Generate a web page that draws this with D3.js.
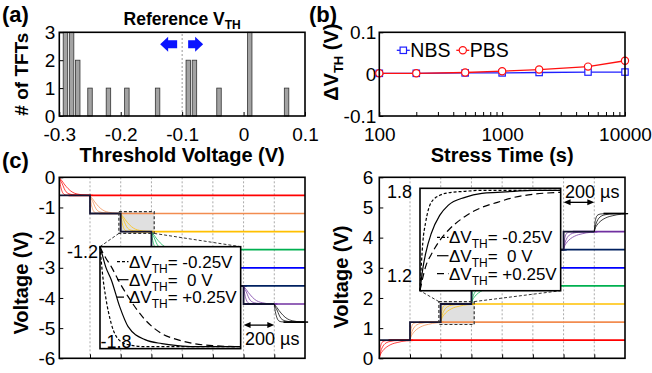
<!DOCTYPE html>
<html>
<head>
<meta charset="utf-8">
<script src="https://d3js.org/d3.v7.min.js"></script>
<style>
body { margin: 0; background: #fff; }
</style>
</head>
<body>
<div id="chart"></div>
<script>
// ---- data ----
// (a) histogram of threshold voltages
var histVth   = [-0.29, -0.28, -0.27, -0.25, -0.22, -0.19, -0.14, -0.09, -0.08, -0.04, 0.01, 0.07];
var histCount = [3, 3, 2, 1, 1, 1, 1, 2, 2, 1, 3, 1];
var refVth = -0.1;
var histXTicks = [-0.3, -0.2, -0.1, 0, 0.1];
var histYTicks = [0, 1, 2, 3];

// (b) threshold shift vs stress time
var stressTime = [100, 200, 500, 1000, 2000, 5000, 10000];
var nbsShift   = [0.002, 0.002, 0.003, 0.003, 0.004, 0.005, 0.005];
var pbsShift   = [0.002, 0.002, 0.004, 0.007, 0.011, 0.018, 0.032];
var stressTicks = [100, 1000, 10000];
var shiftTicks  = [-0.1, 0, 0.1];

// (c) staircase outputs
var stepTimes  = [0, 200, 400, 600, 800, 1000, 1200, 1400];   // us
var stepLevels = [0.6, 1.2, 1.8, 2.4, 3.0, 3.6, 4.2, 4.8];      // |V|
var stepColors = ["#ff0000", "#f28c50", "#ffc000", "#00b050", "#0000ff", "#002060", "#7030a0", "#000000"];
var gridTimes  = [200, 400, 600, 800, 1000, 1200, 1400];

// inset transients: fraction of the step reached vs fraction of the inset width
var insetU     = [0, 0.02, 0.04, 0.08, 0.14, 0.2, 0.32, 0.44, 0.55, 0.67, 0.8, 1];
var fallShort  = [0, 0.3, 0.5, 0.77, 0.94, 0.98, 1, 1, 1, 1, 1, 1];
var fallSolid  = [0, 0.1, 0.2, 0.33, 0.6, 0.8, 0.93, 0.97, 0.99, 1, 1, 1];
var fallLong   = [0, 0.06, 0.11, 0.2, 0.36, 0.5, 0.73, 0.87, 0.93, 0.97, 0.99, 1];
var riseShort  = [0, 0.48, 0.68, 0.88, 0.95, 0.975, 0.99, 1, 1, 1, 1, 1];
var riseSolid  = [0, 0.22, 0.37, 0.57, 0.75, 0.85, 0.93, 0.97, 0.98, 0.99, 1, 1];
var riseLong   = [0, 0.13, 0.24, 0.36, 0.5, 0.6, 0.74, 0.83, 0.88, 0.93, 0.96, 0.98];
var legendText = ["= -0.25V", "=  0 V", "= +0.25V"];

var FONT = '"Liberation Sans", Arial, Helvetica, sans-serif';

var svg = d3.select("#chart").append("svg")
  .attr("width", 652)
  .attr("height", 373)
  .attr("font-family", FONT);

function fmt(d) { return String(d); }

function frame(g, x0, x1, y0, y1) {
  g.append("rect")
    .attr("x", x0).attr("y", y0)
    .attr("width", x1 - x0).attr("height", y1 - y0)
    .attr("fill", "none")
    .attr("stroke", "#000")
    .attr("stroke-width", 1.6);
}

function styleAxis(g, size) {
  g.select(".domain").remove();
  g.attr("font-family", FONT).attr("font-size", size);
  g.selectAll(".tick line").attr("stroke", "#000").attr("stroke-width", 1);
}

function panelLabel(txt, x, y) {
  svg.append("text").attr("x", x).attr("y", y)
    .attr("font-size", 22).attr("font-weight", "bold").text(txt);
}

// ================= (a) =================
(function panelA() {
  var x0 = 59.3, x1 = 305, y0 = 32.3, y1 = 116;
  var x = d3.scaleLinear().domain([-0.3, 0.1]).range([x0, x1]);
  var y = d3.scaleLinear().domain([0, 3]).range([y1, y0]);
  var g = svg.append("g");
  var binW = 0.0073;

  g.append("line")
    .attr("x1", x(refVth)).attr("x2", x(refVth))
    .attr("y1", y(0)).attr("y2", y(3))
    .attr("stroke", "#999").attr("stroke-dasharray", "2,2");

  g.selectAll(".bar")
    .data(histVth)
    .enter().append("rect")
    .attr("class", "bar")
    .attr("x", function(d) { return x(d - binW / 2); })
    .attr("width", function(d) { return x(d + binW / 2) - x(d - binW / 2); })
    .attr("y", function(d, i) { return y(histCount[i]); })
    .attr("height", function(d, i) { return y(0) - y(histCount[i]); })
    .attr("fill", "#a3a3a3")
    .attr("stroke", "#333")
    .attr("stroke-width", 0.8);

  g.append("g")
    .attr("transform", "translate(0," + y1 + ")")
    .call(d3.axisBottom(x).tickValues(histXTicks).tickSize(-4).tickSizeOuter(0).tickPadding(12).tickFormat(fmt))
    .call(function(a) { styleAxis(a, 19); });

  g.append("g")
    .attr("transform", "translate(" + x0 + ",0)")
    .call(d3.axisLeft(y).tickValues(histYTicks).tickSize(-4).tickSizeOuter(0).tickPadding(4).tickFormat(fmt))
    .call(function(a) { styleAxis(a, 19); });

  frame(g, x0, x1, y0, y1);

  // blue arrows either side of the reference line
  var cx = x(refVth), cy = y0 + 12;
  var arrows = [
    [[cx - 22, cy], [cx - 14, cy - 7.5], [cx - 14, cy - 4], [cx - 5, cy - 4], [cx - 5, cy + 4], [cx - 14, cy + 4], [cx - 14, cy + 7.5]],
    [[cx + 21, cy], [cx + 13, cy - 7.5], [cx + 13, cy - 4], [cx + 6, cy - 4], [cx + 6, cy + 4], [cx + 13, cy + 4], [cx + 13, cy + 7.5]]
  ];
  g.selectAll(".arrow").data(arrows).enter().append("polygon")
    .attr("points", function(d) { return d.join(" "); })
    .attr("fill", "#0a14ff");

  var t = g.append("text")
    .attr("x", cx).attr("y", 25)
    .attr("text-anchor", "middle")
    .attr("font-size", 17.5).attr("font-weight", "bold");
  t.append("tspan").text("Reference V");
  t.append("tspan").attr("font-size", 12).attr("dy", 4).text("TH");

  g.append("text")
    .attr("transform", "translate(28," + ((y0 + y1) / 2) + ") rotate(-90)")
    .attr("text-anchor", "middle")
    .attr("font-size", 19).attr("font-weight", "bold")
    .text("# of TFTs");

  g.append("text")
    .attr("x", (x0 + x1) / 2).attr("y", 162)
    .attr("text-anchor", "middle")
    .attr("font-size", 20).attr("font-weight", "bold")
    .text("Threshold Voltage (V)");
})();

// ================= (b) =================
(function panelB() {
  var x0 = 379.3, x1 = 625, y0 = 32.3, y1 = 116;
  var x = d3.scaleLog().domain([100, 10000]).range([x0, x1]);
  var y = d3.scaleLinear().domain([-0.1, 0.1]).range([y1, y0]);
  var g = svg.append("g");

  g.append("g")
    .attr("transform", "translate(0," + y1 + ")")
    .call(d3.axisBottom(x).tickValues(x.ticks()).tickSize(-4).tickSizeOuter(0).tickPadding(12)
      .tickFormat(function(d) { return stressTicks.indexOf(d) >= 0 ? String(d) : ""; }))
    .call(function(a) { styleAxis(a, 19); });

  g.append("g")
    .attr("transform", "translate(" + x0 + ",0)")
    .call(d3.axisLeft(y).tickValues(shiftTicks).tickSize(-4).tickSizeOuter(0).tickPadding(3).tickFormat(fmt))
    .call(function(a) { styleAxis(a, 19); });

  var series = [
    { vals: nbsShift, color: "#1f1fff", shape: "square" },
    { vals: pbsShift, color: "#ff1010", shape: "circle" }
  ];
  var line = d3.line()
    .x(function(d, i) { return x(stressTime[i]); })
    .y(function(d) { return y(d); });

  series.forEach(function(s) {
    g.append("path")
      .attr("d", line(s.vals))
      .attr("fill", "none")
      .attr("stroke", s.color)
      .attr("stroke-width", 1.3);
    if (s.shape == "square") {
      g.selectAll(".sq").data(s.vals).enter().append("rect")
        .attr("class", "sq")
        .attr("x", function(d, i) { return x(stressTime[i]) - 3.2; })
        .attr("y", function(d) { return y(d) - 3.2; })
        .attr("width", 6.4).attr("height", 6.4)
        .attr("fill", "#fff").attr("stroke", s.color).attr("stroke-width", 1.2);
    } else {
      g.selectAll(".ci").data(s.vals).enter().append("circle")
        .attr("class", "ci")
        .attr("cx", function(d, i) { return x(stressTime[i]); })
        .attr("cy", function(d) { return y(d); })
        .attr("r", 3.6)
        .attr("fill", "#fff").attr("stroke", s.color).attr("stroke-width", 1.2);
    }
  });

  frame(g, x0, x1, y0, y1);

  // legend
  var ly = y0 + 18;
  var leg = [
    { lx: x0 + 17.5, label: "NBS", color: "#1f1fff", shape: "square" },
    { lx: x0 + 77, label: "PBS", color: "#ff1010", shape: "circle" }
  ];
  leg.forEach(function(l) {
    g.append("line").attr("x1", l.lx).attr("x2", l.lx + 13).attr("y1", ly).attr("y2", ly)
      .attr("stroke", l.color).attr("stroke-width", 1.3);
    if (l.shape == "square") {
      g.append("rect").attr("x", l.lx + 3.3).attr("y", ly - 3.2).attr("width", 6.4).attr("height", 6.4)
        .attr("fill", "#fff").attr("stroke", l.color).attr("stroke-width", 1.2);
    } else {
      g.append("circle").attr("cx", l.lx + 6.5).attr("cy", ly).attr("r", 3.6)
        .attr("fill", "#fff").attr("stroke", l.color).attr("stroke-width", 1.2);
    }
    g.append("text").attr("x", l.lx + 13.5).attr("y", ly + 7)
      .attr("font-size", 19.5).text(l.label);
  });

  var t = g.append("text")
    .attr("transform", "translate(338," + ((y0 + y1) / 2 - 12) + ") rotate(-90)")
    .attr("text-anchor", "middle")
    .attr("font-size", 20).attr("font-weight", "bold");
  t.append("tspan").text("\u0394V");
  t.append("tspan").attr("font-size", 13).attr("dy", 5).text("TH");
  t.append("tspan").attr("dy", -5).text(" (V)");

  g.append("text")
    .attr("x", (x0 + x1) / 2).attr("y", 162)
    .attr("text-anchor", "middle")
    .attr("font-size", 20).attr("font-weight", "bold")
    .text("Stress Time (s)");
})();

// ================= (c) =================
function panelC(cfg) {
  var x0 = cfg.x0, x1 = cfg.x0 + 245.7, y0 = 177.3, y1 = 358.3;
  var s = cfg.sign;
  var x = d3.scaleLinear().domain([0, 1600]).range([x0, x1]);
  var y = d3.scaleLinear().domain(cfg.yDomain).range([y1, y0]);
  var g = svg.append("g");
  var curves = cfg.curves;
  var dashes = ["3,2", null, "7,4"];

  // dotted grid
  g.selectAll(".grid").data(gridTimes).enter().append("line")
    .attr("x1", function(d) { return x(d); }).attr("x2", function(d) { return x(d); })
    .attr("y1", y0).attr("y2", y1)
    .attr("stroke", "#aaa").attr("stroke-width", 1).attr("stroke-dasharray", "2,2");

  // zoomed region
  var hb = cfg.hiBox;
  g.append("rect")
    .attr("x", x(hb.t[0])).attr("width", x(hb.t[1]) - x(hb.t[0]))
    .attr("y", Math.min(y(hb.v[0]), y(hb.v[1])))
    .attr("height", Math.abs(y(hb.v[0]) - y(hb.v[1])))
    .attr("fill", "#e0e0e0");

  var tline = d3.line().curve(d3.curveMonotoneX)
    .x(function(d) { return x(d[0]); })
    .y(function(d) { return y(d[1]); });

  // coloured outputs with their transients
  stepLevels.forEach(function(lv, k) {
    var v1 = s * lv;
    var v0 = k == 0 ? 0 : s * stepLevels[k - 1];
    var t0 = stepTimes[k];
    curves.forEach(function(c) {
      var pts = insetU.map(function(u, j) { return [t0 + u * 220, v0 + (v1 - v0) * c[j]]; });
      g.append("path").attr("d", tline(pts))
        .attr("fill", "none").attr("stroke", stepColors[k]).attr("stroke-width", 1)
        .attr("opacity", 0.75);
    });
    g.append("line")
      .attr("x1", x(t0 + 60)).attr("x2", x(1600))
      .attr("y1", y(v1)).attr("y2", y(v1))
      .attr("stroke", stepColors[k]).attr("stroke-width", 1.7);
  });

  // input staircase
  var stair = [];
  stepLevels.forEach(function(lv, k) {
    if (k == stepLevels.length - 1) return;
    stair.push([stepTimes[k], s * lv]);
    stair.push([stepTimes[k + 1], s * lv]);
  });
  g.append("path")
    .attr("d", d3.line().x(function(d) { return x(d[0]); }).y(function(d) { return y(d[1]); })(stair))
    .attr("fill", "none").attr("stroke", "#141433").attr("stroke-width", 1.8);

  g.append("rect")
    .attr("x", x(hb.t[0])).attr("width", x(hb.t[1]) - x(hb.t[0]))
    .attr("y", Math.min(y(hb.v[0]), y(hb.v[1])))
    .attr("height", Math.abs(y(hb.v[0]) - y(hb.v[1])))
    .attr("fill", "none").attr("stroke", "#333").attr("stroke-width", 1.2).attr("stroke-dasharray", "3,2");

  // axes
  g.append("g")
    .attr("transform", "translate(0," + y1 + ")")
    .call(d3.axisBottom(x).tickValues(gridTimes).tickSize(-4).tickSizeOuter(0).tickFormat(""))
    .call(function(a) { styleAxis(a, 19); });
  g.append("g")
    .attr("transform", "translate(" + x0 + ",0)")
    .call(d3.axisLeft(y).tickValues(d3.range(cfg.yDomain[0], cfg.yDomain[1] + 1)).tickSize(-4).tickSizeOuter(0)
      .tickPadding(cfg.pad).tickFormat(fmt))
    .call(function(a) { styleAxis(a, 19); });

  // inset
  var ib = cfg.inset;
  var ix0 = x(ib.t[0]), ix1 = x(ib.t[1]);
  var iyTop = y(ib.v[0]), iyBot = y(ib.v[1]);
  var hy = y(hb.v[1]);
  var iy = s < 0 ? iyTop : iyBot;
  [[x(hb.t[0]), ix0], [x(hb.t[1]), ix1]].forEach(function(p) {
    g.append("line").attr("x1", p[0]).attr("y1", hy).attr("x2", p[1]).attr("y2", iy)
      .attr("stroke", "#333").attr("stroke-width", 1).attr("stroke-dasharray", "3,2");
  });

  g.append("rect")
    .attr("x", ix0).attr("y", iyTop).attr("width", ix1 - ix0).attr("height", iyBot - iyTop)
    .attr("fill", "#fff").attr("stroke", "#000").attr("stroke-width", 1.6);

  var xi = d3.scaleLinear().domain([0, 1]).range([ix0, ix1]);
  var yi = d3.scaleLinear().domain([0, 1]).range(s < 0 ? [iyTop, iyBot - 2] : [iyBot, iyTop + 2]);
  var iline = d3.line().curve(d3.curveMonotoneX)
    .x(function(d, j) { return xi(insetU[j]); })
    .y(function(d) { return yi(d); });
  curves.forEach(function(c, j) {
    g.append("path").attr("d", iline(c))
      .attr("fill", "none").attr("stroke", "#000").attr("stroke-width", 1.2)
      .attr("stroke-dasharray", dashes[j]);
  });

  // inset legend
  legendText.forEach(function(txt, j) {
    var ry = iyTop + cfg.legRows[j];
    g.append("line").attr("x1", ix0 + 17).attr("x2", ix0 + 28.5).attr("y1", ry).attr("y2", ry)
      .attr("stroke", "#000").attr("stroke-width", 1.2).attr("stroke-dasharray", dashes[j]);
    var t = g.append("text").attr("x", ix0 + 29).attr("y", ry + 6)
      .attr("font-size", 17).style("white-space", "pre");
    t.append("tspan").text("\u0394V");
    t.append("tspan").attr("font-size", 12).attr("dy", 5).text("TH");
    t.append("tspan").attr("dy", -5).text(txt);
  });

  cfg.insetLabels.forEach(function(l) {
    g.append("text").attr("x", ix0 + l.dx).attr("y", (l.top ? iyTop : iyBot) + l.dy)
      .attr("text-anchor", l.anchor).attr("font-size", 18).text(l.text);
  });

  // 200 us marker
  var ay = y(cfg.arrowV), ax0 = x(1200), ax1 = x(1400);
  g.append("line").attr("x1", ax0 + 3).attr("x2", ax1 - 3).attr("y1", ay).attr("y2", ay)
    .attr("stroke", "#000").attr("stroke-width", 1.3);
  g.append("polygon").attr("points", [[ax0, ay], [ax0 + 7, ay - 3], [ax0 + 7, ay + 3]].join(" ")).attr("fill", "#000");
  g.append("polygon").attr("points", [[ax1, ay], [ax1 - 7, ay - 3], [ax1 - 7, ay + 3]].join(" ")).attr("fill", "#000");
  g.append("text").attr("x", ax0 + 1.5).attr("y", y(cfg.arrowTextV))
    .attr("font-size", 18).text("200 \u00b5s");

  frame(g, x0, x1, y0, y1);

  g.append("text")
    .attr("transform", "translate(" + cfg.titleX + "," + cfg.titleY + ") rotate(-90)")
    .attr("text-anchor", "middle")
    .attr("font-size", 20).attr("font-weight", "bold")
    .text("Voltage (V)");
}

panelC({
  x0: 59.3, sign: -1, yDomain: [-6, 0], pad: 4,
  curves: [fallShort, fallSolid, fallLong],
  hiBox: { t: [388, 618], v: [-1.14, -1.86] },
  inset: { t: [265, 1181], v: [-2.3, -5.68] },
  legRows: [15, 33, 50.5],
  insetLabels: [
    { text: "-1.2", dx: -2, dy: 11, anchor: "end", top: true },
    { text: "-1.8", dx: 0.5, dy: -0.5, anchor: "start", top: false }
  ],
  arrowV: -4.9, arrowTextV: -5.57,
  titleX: 28, titleY: 283
});

panelC({
  x0: 379.3, sign: 1, yDomain: [0, 6], pad: 6,
  curves: [riseShort, riseSolid, riseLong],
  hiBox: { t: [388, 618], v: [1.12, 1.88] },
  inset: { t: [265, 1181], v: [5.635, 2.24] },
  legRows: [49, 67.4, 85.4],
  insetLabels: [
    { text: "1.8", dx: -8, dy: 10, anchor: "end", top: true },
    { text: "1.2", dx: -8, dy: -9, anchor: "end", top: false }
  ],
  arrowV: 5.17, arrowTextV: 5.31,
  titleX: 348, titleY: 277
});

panelLabel("(a)", 2, 22);
panelLabel("(b)", 309, 22);
panelLabel("(c)", 2, 168);
</script>
</body>
</html>
